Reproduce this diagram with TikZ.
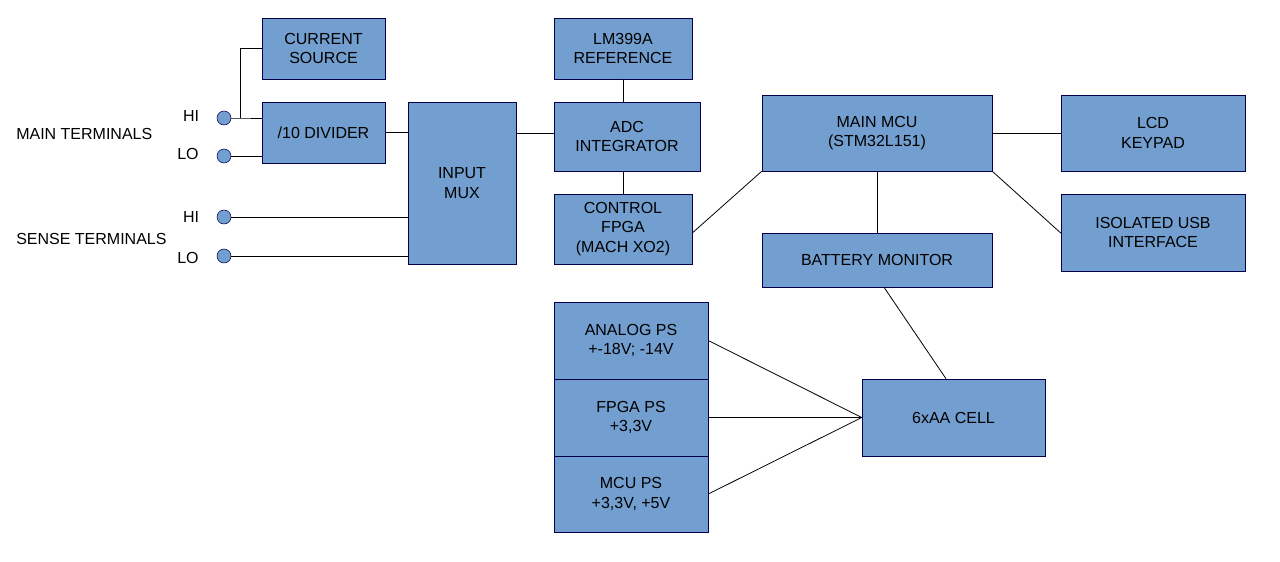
\documentclass[tikz,border=0pt]{standalone}
\usepackage{fontspec}
\setmainfont{Liberation Sans}
\begin{document}
\begin{tikzpicture}[x=0.75pt,y=-0.75pt,
  blk/.style={draw=black!70!blue,fill=blockblue,line width=0.4pt,align=center,inner sep=0pt,font=\fontsize{12}{14.4}\selectfont},
  term/.style={circle,draw=black!70!blue,fill=blockblue,minimum size=10.5pt,inner sep=0pt},
  lbl/.style={font=\fontsize{12}{14.4}\selectfont,inner sep=0pt},
  ln/.style={line width=0.6pt}]
\definecolor{blockblue}{HTML}{729FCF}
\useasboundingbox (0,0) rectangle (1280,561);
\newcommand{\bx}[6]{\node[blk,minimum width=#4*0.75pt,minimum height=#5*0.75pt] (#1) at (#2+#4/2,#3+#5/2) {#6};}
\bx{cs}{262}{18}{123}{61}{CURRENT\\SOURCE}
\bx{div}{262}{102}{123}{61}{/10 DIVIDER}
\bx{mux}{408}{102}{108}{162}{INPUT\\MUX}
\bx{ref}{554}{18}{138}{61}{LM399A\\REFERENCE}
\bx{adc}{554}{102}{146}{69}{ADC\\INTEGRATOR}
\bx{fpga}{554}{194}{138}{70}{CONTROL\\FPGA\\(MACH XO2)}
\bx{mcu}{762}{95}{230}{76}{MAIN MCU\\(STM32L151)}
\bx{lcd}{1061}{95}{184}{76}{LCD\\KEYPAD}
\bx{usb}{1061}{194}{184}{77}{ISOLATED USB\\INTERFACE}
\bx{bat}{762}{233}{230}{54}{BATTERY MONITOR}
\bx{aps}{554}{302}{154}{77}{ANALOG PS\\+-18V; -14V}
\bx{fps}{554}{379}{154}{77}{FPGA PS\\+3,3V}
\bx{mps}{554}{456}{154}{76}{MCU PS\\+3,3V, +5V}
\bx{cell}{862}{379}{183}{77}{6xAA CELL}
\node[term] (mh) at (224,118) {};
\node[term] (ml) at (224,156) {};
\node[term] (sh) at (224,217) {};
\node[term] (sl) at (224,256) {};
\node[lbl] (t1) at (191,116) {HI};
\node[lbl] (t2) at (188,154) {LO};
\node[lbl] (t3) at (191,217) {HI};
\node[lbl] (t4) at (188,258) {LO};
\node[lbl,anchor=west] (mt) at (16,134) {MAIN TERMINALS};
\node[lbl,anchor=west] (st) at (16,239) {SENSE TERMINALS};
\coordinate (j) at (240,118);
\draw[ln] (mh) -- (j) -- (div.west |- j);
\draw[ln] (j) -- (240,48) -- (cs.west |- 0,48);
\draw[ln] (ml) -- (div.west |- ml);
\draw[ln] (div.east) -- (mux.west |- div.east);
\draw[ln] (sh) -- (mux.west |- sh);
\draw[ln] (sl) -- (mux.west |- sl);
\draw[ln] (mux.east |- 0,133) -- (adc.west |- 0,133);
\draw[ln] (ref.south -| 623,0) -- (adc.north -| 623,0);
\draw[ln] (adc.south -| 623,0) -- (fpga.north -| 623,0);
\draw[ln] (fpga.east |- 0,233) -- (mcu.south west);
\draw[ln] (mcu.east |- 0,133) -- (lcd.west |- 0,133);
\draw[ln] (mcu.south east) -- (usb.west |- 0,233);
\draw[ln] (mcu.south -| 877,0) -- (bat.north -| 877,0);
\draw[ln] (bat.south -| 884,0) -- (cell.north -| 946,0);
\draw[ln] (aps.east) -- (cell.west);
\draw[ln] (fps.east) -- (cell.west);
\draw[ln] (mps.east) -- (cell.west);
\end{tikzpicture}
\end{document}
